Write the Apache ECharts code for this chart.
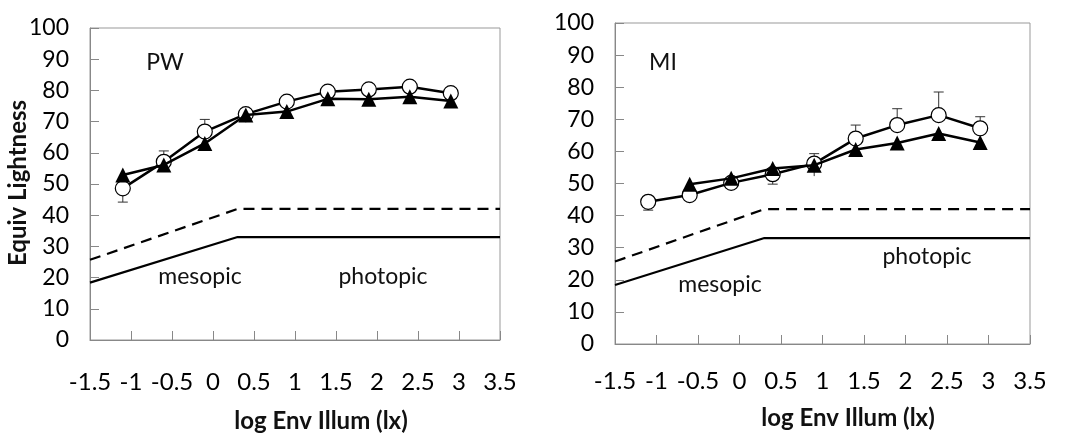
<!DOCTYPE html>
<html>
<head>
<meta charset="utf-8">
<script src="https://cdn.jsdelivr.net/npm/echarts@6/dist/echarts.min.js"></script>
<style>
  html, body { margin: 0; padding: 0; background: #fff; }
  #main { width: 1070px; height: 436px; }
</style>
</head>
<body>
<div id="main"></div>
<script>
// x positions (log lx)
var xs = [-1.1, -0.6, -0.1, 0.4, 0.9, 1.4, 1.9, 2.4, 2.9];

// PW panel
var pwCircle = [48.6, 57.1, 66.8, 72.4, 76.4, 79.6, 80.3, 81.2, 79.1];
var pwTriangle = [52.9, 56.1, 63.0, 72.1, 73.2, 77.3, 77.2, 78.0, 76.6];
// error bars [x, from, to]
var pwErr = [[-1.1, 48.6, 44.2], [-0.6, 57.1, 60.6], [-0.1, 66.8, 70.7], [0.4, 70.4, 74.0]];

// MI panel
var miCircle = [44.3, 46.4, 50.2, 52.9, 56.2, 64.0, 68.2, 71.3, 67.2];
var miTriangle = [null, 49.8, 51.6, 54.7, 55.7, 60.6, 62.6, 65.6, 62.8];
var miErr = [[-1.1, 44.3, 41.7], [0.4, 52.9, 49.8], [0.9, 52.3, 59.3],
             [1.4, 64.0, 68.2], [1.9, 68.2, 73.3], [2.4, 71.3, 78.5],
             [2.4, 65.6, 63.5], [2.9, 67.2, 70.8]];

// threshold lines
var dashLine = [[-1.5, 25.7], [0.3, 42], [3.5, 42]];
var solidLine = [[-1.5, 18.4], [0.3, 33], [3.5, 33]];

function pairs(ys) {
    return xs.map(function (x, i) { return ys[i] == null ? null : [x, ys[i]]; })
        .filter(function (d) { return d; });
}

var font = 'Lato';
var grids = [
    { left: 90, top: 28, width: 410, height: 312, show: true, borderColor: '#999', borderWidth: 1 },
    { left: 615, top: 23, width: 415, height: 321, show: true, borderColor: '#999', borderWidth: 1 }
];
var labelMargins = [30, 25];

function xAxis(i) {
    return {
        gridIndex: i, type: 'value', min: -1.5, max: 3.5, interval: 0.5,
        axisLine: { onZero: false, lineStyle: { color: '#888' } },
        axisTick: { inside: true, length: 9, lineStyle: { color: '#888' } },
        axisLabel: { margin: labelMargins[i], fontSize: 24, color: '#000', fontFamily: font,
                     showMinLabel: true, showMaxLabel: true },
        splitLine: { show: false }
    };
}
function yAxis(i) {
    return {
        gridIndex: i, type: 'value', min: 0, max: 100, interval: 10,
        axisLine: { show: true, onZero: false, lineStyle: { color: '#888' } },
        axisTick: { show: true, inside: true, length: 9, lineStyle: { color: '#888' } },
        axisLabel: { margin: 21, fontSize: 23, color: '#000', fontFamily: font },
        splitLine: { show: false }
    };
}

function errSeries(i, data) {
    return {
        type: 'custom', xAxisIndex: i, yAxisIndex: i, z: 1,
        data: data,
        renderItem: function (params, api) {
            var p0 = api.coord([api.value(0), api.value(1)]);
            var p1 = api.coord([api.value(0), api.value(2)]);
            return {
                type: 'group',
                children: [
                    { type: 'line', shape: { x1: p0[0], y1: p0[1], x2: p1[0], y2: p1[1] },
                      style: { stroke: '#333', lineWidth: 1 } },
                    { type: 'line', shape: { x1: p1[0] - 5, y1: p1[1], x2: p1[0] + 5, y2: p1[1] },
                      style: { stroke: '#333', lineWidth: 1 } }
                ]
            };
        }
    };
}
function refSeries(i, data, dashed) {
    return {
        type: 'line', xAxisIndex: i, yAxisIndex: i, data: data, symbol: 'none', silent: true,
        lineStyle: { color: '#000', width: 2.2, type: dashed ? [11, 7] : 'solid' }
    };
}
function circleSeries(i, ys) {
    return {
        type: 'line', xAxisIndex: i, yAxisIndex: i, data: pairs(ys), z: 3,
        symbol: 'circle', symbolSize: 15,
        lineStyle: { color: '#000', width: 2.5 },
        itemStyle: { color: '#fff', borderColor: '#000', borderWidth: 1.2 }
    };
}
function triSeries(i, ys) {
    return {
        type: 'line', xAxisIndex: i, yAxisIndex: i, data: pairs(ys), z: 4,
        symbol: 'triangle', symbolSize: 15,
        lineStyle: { color: '#000', width: 2.5 },
        itemStyle: { color: '#000' }
    };
}

var textStyle = function (txt, x, y, size, weight, rot) {
    return {
        type: 'text', x: x, y: y, rotation: rot || 0,
        style: { text: txt, fontSize: size, fontFamily: font, fontWeight: weight || 'normal',
                 fill: '#111', align: 'center', verticalAlign: 'middle' }
    };
};

var chart = echarts.init(document.getElementById('main'));
var option = {
    animation: false,
    grid: grids,
    xAxis: [xAxis(0), xAxis(1)],
    yAxis: [yAxis(0), yAxis(1)],
    series: [
        refSeries(0, dashLine, true), refSeries(0, solidLine, false),
        errSeries(0, pwErr), circleSeries(0, pwCircle), triSeries(0, pwTriangle),
        refSeries(1, dashLine, true), refSeries(1, solidLine, false),
        errSeries(1, miErr), circleSeries(1, miCircle), triSeries(1, miTriangle)
    ],
    graphic: [
        textStyle('Equiv Lightness', 18, 183, 24, 'bold', Math.PI / 2),
        textStyle('log Env Illum (lx)', 321, 421, 24, 'bold'),
        textStyle('log Env Illum (lx)', 848, 418, 24, 'bold'),
        textStyle('PW', 165, 63, 23),
        textStyle('mesopic', 200, 277, 23),
        textStyle('photopic', 383, 277, 23),
        textStyle('MI', 663, 63, 23),
        textStyle('mesopic', 720, 285, 23),
        textStyle('photopic', 927, 257, 23)
    ]
};
chart.setOption(option);
</script>
</body>
</html>
